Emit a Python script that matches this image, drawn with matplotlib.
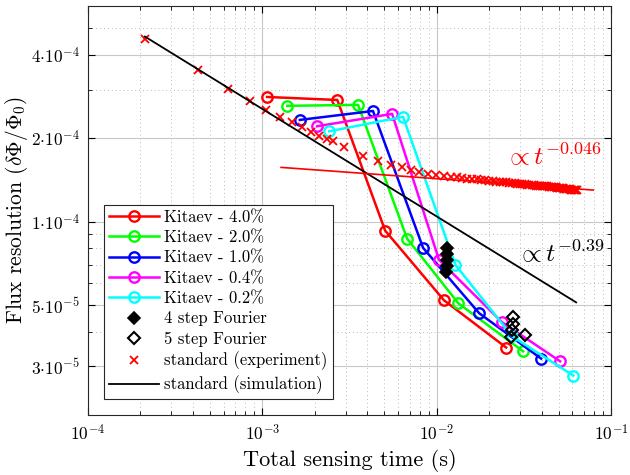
import numpy as np
import matplotlib
matplotlib.use('Agg')
import matplotlib.pyplot as plt
from matplotlib.ticker import FixedLocator, FixedFormatter, LogLocator, NullFormatter

plt.rcParams['font.family'] = 'serif'
plt.rcParams['font.serif'] = ['cmr10']
plt.rcParams['mathtext.fontset'] = 'cm'
plt.rcParams['axes.formatter.use_mathtext'] = True
plt.rcParams['axes.unicode_minus'] = False

# Kitaev (t in ms, flux resolution in 1e-5)
kitaev_labels = ['Kitaev - 4.0%', 'Kitaev - 2.0%', 'Kitaev - 1.0%', 'Kitaev - 0.4%', 'Kitaev - 0.2%']
kitaev_colors = ['#ff0000', '#00ff00', '#0000ff', '#ff00ff', '#00ffff']
kitaev_t = [
    [1.064, 2.69, 5.06, 11.0, 25.0],
    [1.39, 3.54, 6.76, 13.3, 31.3],
    [1.64, 4.31, 8.35, 17.5, 39.7],
    [2.06, 5.55, 10.3, 23.7, 51.0],
    [2.42, 6.41, 12.8, 27.1, 60.7],
]
kitaev_y = [
    [28.2, 27.5, 9.28, 5.2, 3.51],
    [26.2, 26.4, 8.68, 5.07, 3.40],
    [23.3, 25.1, 8.04, 4.67, 3.20],
    [22.1, 24.5, 7.28, 4.33, 3.13],
    [21.2, 23.9, 6.98, 3.85, 2.78],
]

# Fourier
four_t = [11.5, 11.4, 11.5, 11.4, 11.3]
four_y = [8.04, 7.64, 7.28, 6.92, 6.58]
five_t = [27.4, 27.4, 27.1, 26.8, 32.1]
five_y = [4.52, 4.26, 4.05, 3.82, 3.88]

# standard (experiment)
exp_t = [0.212, 0.427, 0.635, 0.85, 1.05, 1.26, 1.48, 1.69, 1.9, 2.11, 2.35, 2.55, 2.94,
         3.78, 4.61, 5.47, 6.33, 7.12, 7.92, 8.92, 9.9,
         11, 12, 13, 14, 15, 16, 17, 18, 19, 20, 21, 22, 23, 24, 25, 26, 27, 28, 29, 30,
         31, 32, 33, 34, 35, 36, 37, 38, 39, 40, 41, 42, 43, 44, 45, 46, 47, 48, 49, 50,
         51, 52, 53, 54, 55, 56, 57, 58, 59, 60, 61, 62, 63, 64]
exp_y = [45.5, 35.4, 30.2, 27.3, 25.3, 23.9, 22.9, 22.0, 21.1, 20.4, 19.9, 19.5, 18.6,
         17.2, 16.5, 16.0, 15.7, 15.3, 15.1, 14.8, 14.7,
         14.6, 14.55, 14.5, 14.4, 14.3, 14.3, 14.2, 14.15, 14.1, 14.05, 14.0, 13.95, 13.95,
         13.9, 13.85, 13.8, 13.8, 13.75, 13.7, 13.7, 13.65, 13.65, 13.6, 13.6, 13.55, 13.55,
         13.5, 13.5, 13.45, 13.45, 13.4, 13.4, 13.4, 13.35, 13.35, 13.3, 13.3, 13.3, 13.25,
         13.25, 13.2, 13.2, 13.2, 13.15, 13.15, 13.1, 13.1, 13.1, 13.05, 13.05, 13.05, 13.0,
         13.0, 13.0]

# standard (simulation) and fit
sim_t = [0.212, 63.0]
sim_y = [46.6, 5.11]
fit_t = [1.28, 79.0]
fit_y = [15.7, 13.0]

ytick_vals = [3e-5, 5e-5, 1e-4, 2e-4, 4e-4]
ytick_labels = [r'$3{\cdot}10^{-5}$', r'$5{\cdot}10^{-5}$', r'$1{\cdot}10^{-4}$',
                r'$2{\cdot}10^{-4}$', r'$4{\cdot}10^{-4}$']

fig = plt.figure(figsize=(6.3, 4.75), dpi=100)
ax = fig.add_axes([0.1397, 0.126, 0.8303, 0.861])

ms = 1e-3
sc = 1e-5
for t, y, c, lab in zip(kitaev_t, kitaev_y, kitaev_colors, kitaev_labels):
    ax.plot(np.array(t) * ms, np.array(y) * sc, '-o', color=c, lw=1.8, ms=7.5,
            mfc='none', mew=1.7, label=lab)

ax.plot(np.array(four_t) * ms, np.array(four_y) * sc, 'D', color='k', ms=6.5,
        mew=1.2, ls='none', label='4 step Fourier')
ax.plot(np.array(five_t) * ms, np.array(five_y) * sc, 'D', color='k', mfc='none', ms=6.5,
        mew=1.5, ls='none', label='5 step Fourier')
ax.plot(np.array(exp_t) * ms, np.array(exp_y) * sc, 'x', color='#ff0000', ms=5.5,
        mew=1.3, ls='none', label='standard (experiment)')
ax.plot(np.array(sim_t) * ms, np.array(sim_y) * sc, '-', color='k', lw=1.3,
        label='standard (simulation)')
ax.plot(np.array(fit_t) * ms, np.array(fit_y) * sc, '-', color='#ff0000', lw=1.2)

ax.text(0.0245, 1.72e-4, r'$\propto t^{-0.046}$', color='#ff0000', fontsize=18.5,
        ha='left', va='center')
ax.text(0.0287, 7.71e-5, r'$\propto t^{-0.39}$', color='k', fontsize=18.5,
        ha='left', va='center')

ax.set_xscale('log')
ax.set_yscale('log')
ax.set_xlim(1e-4, 1e-1)
ax.set_ylim(2e-5, 6e-4)

ax.yaxis.set_major_locator(FixedLocator(ytick_vals))
ax.yaxis.set_major_formatter(FixedFormatter(ytick_labels))
ax.yaxis.set_minor_locator(LogLocator(base=10, subs=np.arange(1, 10)))
ax.yaxis.set_minor_formatter(NullFormatter())
ax.xaxis.set_minor_locator(LogLocator(base=10, subs=np.arange(2, 10)))
ax.xaxis.set_minor_formatter(NullFormatter())

ax.tick_params(which='both', direction='in', top=True, right=True, labelsize=12.5)
ax.tick_params(which='major', length=5, width=0.8, pad=6)
ax.tick_params(which='minor', length=3, width=0.6)
ax.grid(which='major', color='#c8c8c8', lw=0.8, ls='-')
ax.grid(which='minor', color='#b8b8b8', lw=0.7, ls=(0, (1, 3)))
ax.set_axisbelow(True)
for s in ax.spines.values():
    s.set_linewidth(0.8)
    s.set_color('#262626')

ax.set_xlabel('Total sensing time (s)', fontsize=16, labelpad=4)
ax.set_ylabel(r'Flux resolution $(\delta\Phi/\Phi_0)$', fontsize=15.5, labelpad=1)

leg = ax.legend(loc='lower left', bbox_to_anchor=(0.031, 0.039), borderaxespad=0,
                fontsize=12, numpoints=1, handlelength=3.0, handletextpad=0.3,
                labelspacing=0.3, borderpad=0.3, fancybox=False, framealpha=1,
                edgecolor='#262626')
leg.get_frame().set_linewidth(0.8)

fig.savefig('out.png', dpi=100)
